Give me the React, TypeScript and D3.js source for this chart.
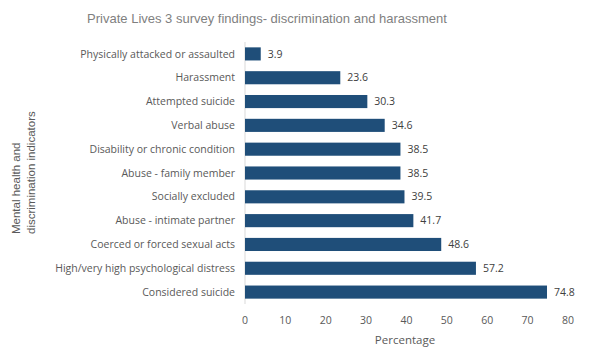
import React from "react";
import * as d3 from "d3";

const categories = [
  "Physically attacked or assaulted",
  "Harassment",
  "Attempted suicide",
  "Verbal abuse",
  "Disability or chronic condition",
  "Abuse - family member",
  "Socially excluded",
  "Abuse - intimate partner",
  "Coerced or forced sexual acts",
  "High/very high psychological distress",
  "Considered suicide",
];
const values = [3.9, 23.6, 30.3, 34.6, 38.5, 38.5, 39.5, 41.7, 48.6, 57.2, 74.8];
const xTicks = [0, 10, 20, 30, 40, 50, 60, 70, 80];
const title = "Private Lives 3 survey findings- discrimination and harassment";
const xTitle = "Percentage";
const yTitle = ["Mental health and", "discrimination indicators"];

export default function App() {
  const W = 599, H = 352;
  const x = d3.scaleLinear().domain([0, 80]).range([245, 568]);
  const y = d3.scaleBand().domain(categories).range([42, 304]).paddingInner(0.45).paddingOuter(0.225);
  const font = "'Open Sans', sans-serif";
  const arial = "'Liberation Sans', Arial, sans-serif";
  const labelColor = "#595959";
  return (
    <svg width={W} height={H} style={{ position: "absolute", left: 0, top: 0, background: "#fff" }}>
      <text x={267} y={23} textAnchor="middle" fontFamily={arial} fontSize={13} fill="#7f7f7f">{title}</text>
      <line x1={x(0)} x2={x(0)} y1={42} y2={304} stroke="#d9d9d9" strokeWidth={1} />
      {categories.map((c, i) => (
        <g key={c}>
          <rect x={x(0)} y={y(c)!} width={x(values[i]) - x(0)} height={y.bandwidth()} fill="#1f4e79" />
          <text x={x(values[i]) + 7} y={y(c)! + y.bandwidth() / 2} dy="0.35em" fontFamily={font} fontSize={10.5} fill="#404040">{values[i].toFixed(1)}</text>
          <text x={235} y={y(c)! + y.bandwidth() / 2} dy="0.35em" textAnchor="end" fontFamily={font} fontSize={10.5} fill={labelColor}>{c}</text>
        </g>
      ))}
      {xTicks.map((t) => (
        <text key={t} x={x(t)} y={320} dy="0.35em" textAnchor="middle" fontFamily={font} fontSize={10.5} fill={labelColor}>{t}</text>
      ))}
      <text x={405} y={340} dy="0.35em" textAnchor="middle" fontFamily={font} fontSize={11.5} fill={labelColor}>{xTitle}</text>
      <text transform="translate(0,234) rotate(-90)" textAnchor="start" fontFamily={arial} fontSize={11.5} fill={labelColor}>
        {yTitle.map((l, i) => (
          <tspan key={i} x={0} y={i === 0 ? 19.5 : 34.5}>{l}</tspan>
        ))}
      </text>
    </svg>
  );
}
